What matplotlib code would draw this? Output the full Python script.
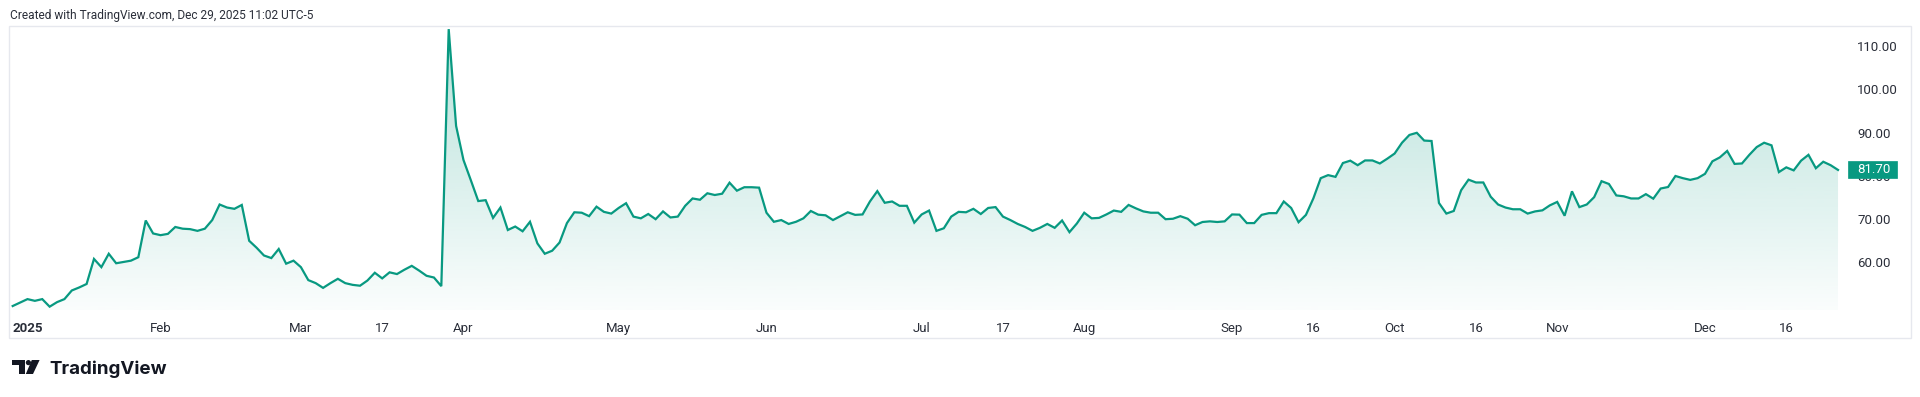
import numpy as np
import matplotlib
matplotlib.use("Agg")
import matplotlib.pyplot as plt
from matplotlib.patches import Polygon, Rectangle, Circle
from matplotlib.transforms import Affine2D, blended_transform_factory

# ---------------- data ----------------
values = [
    50.2, 51.0, 51.8, 51.4, 51.8, 50.05, 51.1, 51.8, 53.8, 54.5,
    55.3, 61.1, 59.2, 62.3, 60.1, 60.4, 60.7, 61.5, 70.0, 67.0,
    66.6, 66.9, 68.5, 68.1, 68.0, 67.6, 68.1, 70.1, 73.7, 73.0,
    72.7, 73.6, 65.3, 63.7, 61.9, 61.3, 63.4, 60.0, 60.7, 59.2,
    56.2, 55.5, 54.4, 55.5, 56.5, 55.5, 55.1, 54.9, 56.1, 57.9,
    56.6, 58.0, 57.6, 58.6, 59.5, 58.4, 57.2, 56.8, 54.8, 114.3,
    91.9, 84.0, 79.3, 74.5, 74.7, 70.6, 73.0, 67.8, 68.6, 67.5,
    69.7, 64.7, 62.3, 63.0, 64.9, 69.4, 71.9, 71.8, 71.0, 73.2,
    72.0, 71.6, 72.9, 74.0, 70.9, 70.5, 71.5, 70.3, 72.1, 70.7,
    70.9, 73.4, 75.1, 74.8, 76.3, 75.9, 76.2, 78.75, 76.9, 77.7,
    77.7, 77.6, 71.8, 69.7, 70.1, 69.2, 69.7, 70.5, 72.2, 71.35,
    71.2, 70.1, 71.0, 71.9, 71.3, 71.4, 74.4, 76.8, 74.1, 74.4,
    73.4, 73.4, 69.5, 71.4, 72.3, 67.6, 68.2, 70.9, 72.0, 71.9,
    72.7, 71.5, 72.9, 73.1, 70.9, 70.1, 69.2, 68.5, 67.6, 68.3,
    69.2, 68.3, 70.0, 67.3, 69.3, 71.8, 70.5, 70.6, 71.4, 72.3,
    72.0, 73.6, 72.8, 72.1, 71.8, 71.8, 70.3, 70.4, 71.0, 70.4,
    68.9, 69.65, 69.8, 69.65, 69.8, 71.4, 71.35, 69.4, 69.4, 71.3,
    71.7, 71.7, 74.4, 72.9, 69.6, 71.3, 75.1, 79.8, 80.5, 80.1,
    83.3, 83.85, 82.8, 83.9, 83.9, 83.2, 84.3, 85.5, 88.0, 89.8,
    90.3, 88.5, 88.4, 74.05, 71.6, 72.2, 77.0, 79.45, 78.8, 78.8,
    75.5, 73.7, 73.0, 72.6, 72.6, 71.6, 72.1, 72.35, 73.5, 74.3,
    71.1, 76.75, 73.1, 73.7, 75.4, 79.1, 78.45, 75.8, 75.6, 75.1,
    75.1, 76.1, 75.05, 77.4, 77.75, 80.3, 79.8, 79.4, 79.8, 80.8,
    83.7, 84.6, 86.1, 83.1, 83.2, 85.2, 87.0, 88.0, 87.4, 81.2,
    82.3, 81.6, 83.85, 85.2, 82.1, 83.6, 82.8, 81.70,
]
tick_index = [0, 20, 39, 50, 61, 82, 102, 123, 134, 145, 165, 176, 187, 198, 209, 229, 240]
tick_labels = ["2025", "Feb", "Mar", "17", "Apr", "May", "Jun", "Jul", "17",
               "Aug", "Sep", "16", "Oct", "16", "Nov", "Dec", "16"]
price_ticks = [60, 70, 80, 90, 100, 110]
header = "Created with TradingView.com, Dec 29, 2025 11:02 UTC-5"

# ---------------- style ----------------
W, H = 1920, 397
DPI = 100
TEAL = "#089981"
TXT = "#2a2e39"
FONT = ["Roboto", "DejaVu Sans"]
plt.rcParams["font.family"] = FONT

fig = plt.figure(figsize=(W / DPI, H / DPI), dpi=DPI)
fig.patch.set_facecolor("white")

def px(x0, y0):
    """figure pixel (from top-left) -> figure fraction"""
    return x0 / W, 1 - y0 / H

pix = Affine2D().scale(1 / W, -1 / H).translate(0, 1) + fig.transFigure

# pane
pane_l, pane_r, pane_t, pane_b = 9, 1848, 27, 310
ax = fig.add_axes([pane_l / W, 1 - pane_b / H, (pane_r - pane_l) / W, (pane_b - pane_t) / H])
ax.set_facecolor("none")
for s in ax.spines.values():
    s.set_visible(False)

x = np.arange(len(values))
y = np.array(values)
ax.set_xlim(-0.5, 248.35)
ax.set_ylim(49.28, 114.79)

# gradient fill under line
ylo, yhi = ax.get_ylim()
poly = Polygon(np.column_stack([np.r_[x[0], x, x[-1]], np.r_[ylo, y, ylo]]),
               closed=True, facecolor="none", edgecolor="none")
ax.add_patch(poly)
n = 256
alpha = np.linspace(0.30, 0.02, n)[:, None]
rgb = np.array(matplotlib.colors.to_rgb(TEAL))
grad = np.zeros((n, 1, 4))
grad[..., :3] = rgb
grad[..., 3] = alpha
im = ax.imshow(grad, extent=[x[0], x[-1], ylo, yhi], origin="upper",
               aspect="auto", interpolation="bilinear", zorder=1)
im.set_clip_path(poly)

ax.plot(x, y, color=TEAL, lw=1.6, solid_joinstyle="miter", zorder=3)

# time axis labels
ax.set_xticks(tick_index)
ax.set_xticklabels(tick_labels)
ax.tick_params(axis="x", length=0, pad=8.5, labelsize=9.5, labelcolor=TXT)
ax.set_yticks([])
for lbl in ax.get_xticklabels():
    if lbl.get_text() == "2025":
        lbl.set_fontweight("bold")
        lbl.set_ha("left")

# price scale
bt = blended_transform_factory(fig.transFigure, ax.transData)
for v in price_ticks:
    ax.text(1857 / W, v, f"{v:.2f}", transform=bt, ha="left", va="center",
            fontsize=9.5, color=TXT, zorder=2, clip_on=False)

# last price badge
last = values[-1]
ppu = (pane_b - pane_t) / (yhi - ylo)  # pixels per unit
badge_h = 17 / ppu
badge = Rectangle((1847.7 / W, last - badge_h / 2), 49 / W, badge_h, transform=bt,
                  facecolor=TEAL, edgecolor=TEAL, lw=0.5, zorder=5, clip_on=False)
ax.add_patch(badge)
ax.text(1857.5 / W, last, f"{last:.2f}", transform=bt, ha="left", va="center",
        fontsize=9.5, color="white", zorder=6, clip_on=False)

# outer frame
frame = Rectangle((9, 26), 1910.5 - 9, 338 - 26, transform=pix, fill=False,
                  edgecolor="#e6e8ee", lw=1.0, zorder=0)
fig.add_artist(frame)

# header
fx, fy = px(10, 15.5)
fig.text(fx, fy, header, ha="left", va="center", fontsize=8.55, color=TXT)

# footer logo
LOGO = "#131722"
fig.add_artist(Rectangle((11.7, 360), 13.3, 5, transform=pix, color=LOGO, lw=0))
fig.add_artist(Rectangle((18.5, 360), 6.5, 14, transform=pix, color=LOGO, lw=0))
fig.add_artist(Circle((28.4, 362.6), 2.6, transform=pix, color=LOGO, lw=0))
fig.add_artist(Polygon([(31.8, 360), (39.6, 360), (33.0, 374), (25.8, 374)],
                       closed=True, transform=pix, color=LOGO, lw=0))
tx, ty = px(49.5, 374)
fig.text(tx, ty, "TradingView", ha="left", va="baseline", fontsize=13.5,
         fontweight="bold", color=LOGO, family=["Inter", "DejaVu Sans"])

fig.savefig("out.png", dpi=DPI, facecolor="white")
